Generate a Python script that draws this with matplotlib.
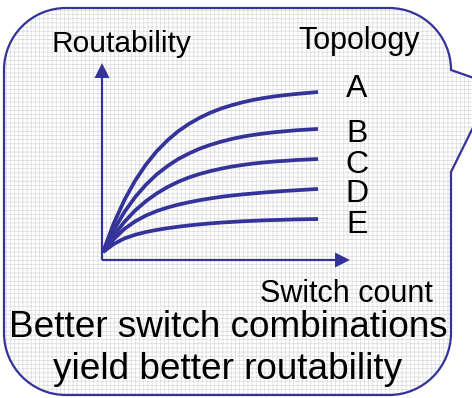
import matplotlib
matplotlib.use("Agg")
import matplotlib.pyplot as plt
from matplotlib.path import Path
from matplotlib.patches import PathPatch, FancyArrow

plt.rcParams['font.family'] = ['Liberation Sans', 'DejaVu Sans']
plt.rcParams['hatch.linewidth'] = 0.5

# switch count (arbitrary units) and routability for each topology
switch_count = [0, 0.5, 1, 1.5, 2, 2.5, 3, 3.5, 4, 4.5, 5,
                5.5, 6, 6.5, 7, 7.5, 8, 8.5, 9, 9.5, 10]
topo_a = [0, 0.179, 0.326, 0.447, 0.547, 0.630, 0.698, 0.755, 0.801, 0.839, 0.871,
          0.897, 0.918, 0.936, 0.951, 0.963, 0.973, 0.981, 0.988, 0.994, 1.0]
topo_b = [0, 0.137, 0.251, 0.344, 0.421, 0.485, 0.537, 0.581, 0.616, 0.646, 0.670,
          0.690, 0.707, 0.721, 0.732, 0.741, 0.749, 0.755, 0.761, 0.765, 0.769]
topo_c = [0, 0.104, 0.189, 0.260, 0.318, 0.366, 0.406, 0.439, 0.466, 0.488, 0.506,
          0.521, 0.534, 0.544, 0.553, 0.560, 0.566, 0.570, 0.575, 0.578, 0.581]
topo_d = [0, 0.080, 0.145, 0.192, 0.228, 0.256, 0.278, 0.296, 0.311, 0.324, 0.335,
          0.345, 0.353, 0.360, 0.366, 0.372, 0.377, 0.382, 0.386, 0.390, 0.394]
topo_e = [0, 0.050, 0.085, 0.108, 0.125, 0.138, 0.149, 0.158, 0.166, 0.173, 0.179,
          0.184, 0.188, 0.192, 0.195, 0.198, 0.200, 0.202, 0.204, 0.205, 0.206]
topo_labels = ['A', 'B', 'C', 'D', 'E']

blue = '#333399'
W, H = 472, 398

fig = plt.figure(figsize=(W / 100, H / 100), dpi=100)

# background axes in pixel units (y down) for the callout bubble and text
bg = fig.add_axes([0, 0, 1, 1], zorder=0)
bg.set_xlim(0, W)
bg.set_ylim(H, 0)
bg.axis('off')

L, R, T, B = 4, 451, 8, 395
r = 62
k = 0.5523 * r
verts = [
    (L + r, T), (R - r, T),
    (R - r + k, T), (R, T + r - k), (R, T + r),
    (494, 85), (R, 172),
    (R, B - r),
    (R, B - r + k), (R - r + k, B), (R - r, B),
    (L + r, B),
    (L + r - k, B), (L, B - r + k), (L, B - r),
    (L, T + r),
    (L, T + r - k), (L + r - k, T), (L + r, T),
    (L + r, T),
]
codes = [Path.MOVETO, Path.LINETO,
         Path.CURVE4, Path.CURVE4, Path.CURVE4,
         Path.LINETO, Path.LINETO,
         Path.LINETO,
         Path.CURVE4, Path.CURVE4, Path.CURVE4,
         Path.LINETO,
         Path.CURVE4, Path.CURVE4, Path.CURVE4,
         Path.LINETO,
         Path.CURVE4, Path.CURVE4, Path.CURVE4,
         Path.CLOSEPOLY]
bubble = Path(verts, codes)
bg.add_patch(PathPatch(bubble, facecolor='white', edgecolor='#dadada', lw=0,
                       hatch='++++', clip_on=False))
bg.add_patch(PathPatch(bubble, facecolor='none', edgecolor=blue, lw=1.6,
                       clip_on=False))

# axis arrows
bg.add_patch(FancyArrow(102, 260, 0, -197, width=2.2, head_width=15, head_length=15,
                        length_includes_head=True, color=blue, lw=0))
bg.add_patch(FancyArrow(102, 260, 248, 0, width=2.2, head_width=15, head_length=15,
                        length_includes_head=True, color=blue, lw=0))

bg.text(121, 52, 'Routability', fontsize=21.5, ha='center', va='baseline')
bg.text(359, 49, 'Topology', fontsize=22, ha='center', va='baseline')
for lab, yb in zip(topo_labels, [97, 142, 173, 202, 233]):
    bg.text(357, yb, lab, fontsize=23, ha='center', va='baseline')
bg.text(346, 302, 'Switch count', fontsize=22, ha='center', va='baseline')
bg.text(228, 337, 'Better switch combinations', fontsize=26.6, ha='center', va='baseline')
bg.text(228, 379, 'yield better routability', fontsize=26.6, ha='center', va='baseline')

# curves axes: x 0..10 -> px 103..318, y 0..1 -> px 252..92
ax = fig.add_axes([103 / W, (H - 252) / H, 215 / W, 160 / H], zorder=1)
ax.set_xlim(0, 10)
ax.set_ylim(0, 1)
ax.axis('off')
ax.patch.set_alpha(0)
for ys in [topo_a, topo_b, topo_c, topo_d, topo_e]:
    ax.plot(switch_count, ys, color=blue, lw=2.7, solid_capstyle='butt',
            solid_joinstyle='round', clip_on=False)

fig.savefig('out.png', dpi=100)
